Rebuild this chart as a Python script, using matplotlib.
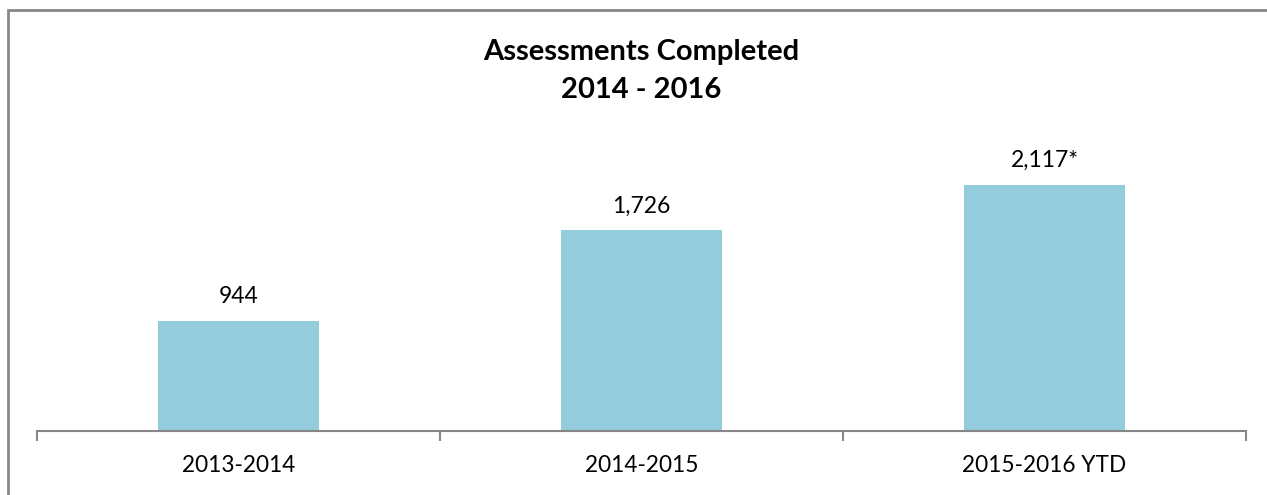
import matplotlib
matplotlib.use("Agg")
import matplotlib.pyplot as plt
from matplotlib.patches import Rectangle

categories = ["2013-2014", "2014-2015", "2015-2016 YTD"]
values = [944, 1726, 2117]
labels = ["944", "1,726", "2,117*"]
title = "Assessments Completed\n2014 - 2016"

W, H = 1267, 495
fig = plt.figure(figsize=(W / 100, H / 100), dpi=100)
plt.rcParams['font.family'] = ['Lato', 'DejaVu Sans']

# border (only left and top visible)
fig.patches.append(Rectangle((7.5 / W, -0.1), 1.2, 1 - 9.5 / H + 0.1,
                             transform=fig.transFigure, fill=False,
                             edgecolor='#878787', linewidth=2))

left, right = 37 / W, 1246 / W
bottom = (H - 431) / H
top = (H - 140.3) / H
ax = fig.add_axes([left, bottom, right - left, top - bottom])
x = list(range(len(categories)))
ax.bar(x, values, width=0.4, color='#93CDDD')
ax.set_xlim(-0.5, len(categories) - 0.5)
ax.set_ylim(0, 2500)
for xi, v, lab in zip(x, values, labels):
    ax.annotate(lab, (xi, v), xytext=(0, 10), textcoords='offset points',
                ha='center', va='bottom', fontsize=16.5, color='#000000')
for s in ['top', 'right', 'left']:
    ax.spines[s].set_visible(False)
ax.spines['bottom'].set_color('#878787')
ax.spines['bottom'].set_linewidth(1.5)
ax.set_yticks([])
ax.set_xticks([-0.5, 0.5, 1.5, 2.5])
ax.set_xticklabels([])
ax.tick_params(axis='x', length=7, width=1.5, color='#878787')
ax.set_xticks(x, minor=True)
ax.set_xticklabels(categories, minor=True, fontsize=16.3)
ax.tick_params(axis='x', which='minor', length=0, pad=17)
fig.text(641 / W, (H - 71) / H, title, ha='center', va='center',
         fontsize=21, fontweight='bold', linespacing=1.6)
fig.savefig('out.png', dpi=100)
